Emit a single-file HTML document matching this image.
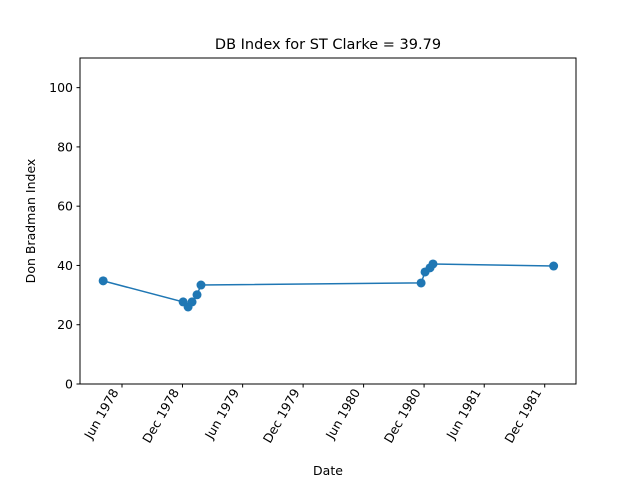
<!DOCTYPE html>
<html><head><meta charset="utf-8"><style>
body{margin:0;background:#fff;font-family:"Liberation Sans","DejaVu Sans",sans-serif}
</style></head><body>
<svg id="chart" width="640" height="480" xmlns="http://www.w3.org/2000/svg" font-family="'DejaVu Sans','Liberation Sans',sans-serif">
<rect width="640" height="480" fill="#fff"/>
<text x="328" y="49" text-anchor="middle" font-size="14.5">DB Index for ST Clarke = 39.79</text>
<text x="328" y="475" text-anchor="middle" font-size="12.5">Date</text>
<text transform="translate(35,221) rotate(-90)" text-anchor="middle" font-size="12.5">Don Bradman Index</text>
</svg>
<script>
const dates=["1978-04-05","1978-12-03","1978-12-18","1978-12-30","1979-01-14","1979-01-26","1980-11-22","1980-12-04","1980-12-19","1980-12-28","1981-12-28"];
const values=[34.8,27.7,26.0,27.7,30.1,33.4,34.1,37.8,39.2,40.5,39.8];
const xTickDates=["1978-06-01","1978-12-01","1979-06-01","1979-12-01","1980-06-01","1980-12-01","1981-06-01","1981-12-01"];
const xTickLabels=["Jun 1978","Dec 1978","Jun 1979","Dec 1979","Jun 1980","Dec 1980","Jun 1981","Dec 1981"];
const yTicks=[0,20,40,60,80,100];

const NS="http://www.w3.org/2000/svg";
const svg=document.getElementById('chart');
const L=80,R=576,T=58,B=384;
const d0=Date.UTC(1978,5,1),pxPerDay=0.3305,x0=122;
function t(s){const p=s.split('-');return Date.UTC(+p[0],+p[1]-1,+p[2]);}
function xs(s){return x0+(t(s)-d0)/86400000*pxPerDay;}
function ys(v){return B-(v/110)*(B-T);}
function mk(tag,attrs){const e=document.createElementNS(NS,tag);for(const k in attrs)e.setAttribute(k,attrs[k]);svg.appendChild(e);return e;}

const frame=mk('rect',{x:L,y:T,width:R-L,height:B-T,fill:'none',stroke:'#000','stroke-width':1});



yTicks.forEach(v=>{
  const y=ys(v);
  const tk=mk('line',{x1:L-3.5,x2:L,y1:y,y2:y,stroke:'#000'});
  
  
  const tx=mk('text',{x:L-7,y:y+4.5,'text-anchor':'end','font-size':12.5});
  tx.textContent=v;
  
  
});
xTickDates.forEach((d,i)=>{
  const x=xs(d);
  const tk=mk('line',{x1:x,x2:x,y1:B,y2:B+3.5,stroke:'#000'});
  
  
  const tx=mk('text',{x:0,y:0,'text-anchor':'end','font-size':12.5,transform:`translate(${x-3},${B+8}) rotate(-60)`});
  tx.textContent=xTickLabels[i];
  
  
});

const pts=dates.map((d,i)=>xs(d).toFixed(1)+','+ys(values[i]).toFixed(1)).join(' ');
const line=mk('polyline',{points:pts,fill:'none',stroke:'#1f77b4','stroke-width':1.5});


dates.forEach((d,i)=>{
  const c=mk('circle',{cx:xs(d),cy:ys(values[i]),r:4.5,fill:'#1f77b4'});
  
  
});
</script>
</body></html>
